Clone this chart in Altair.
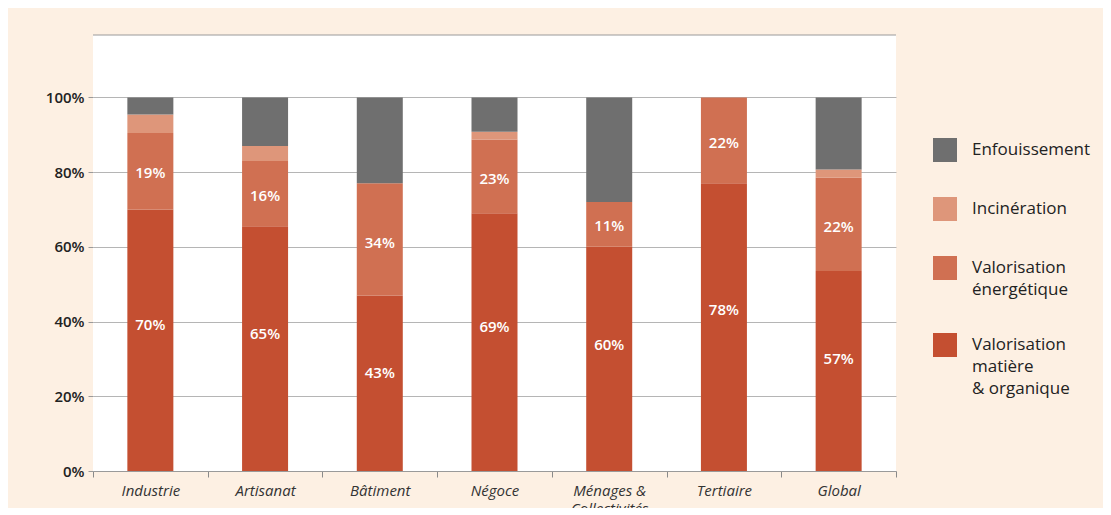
import altair as alt
import pandas as pd

categories = ["Industrie", "Artisanat", "Bâtiment", "Négoce",
              "Ménages & Collectivités", "Tertiaire", "Global"]
series = ["Enfouissement", "Incinération", "Valorisation énergétique",
          "Valorisation matière & organique"]
colors = ["#6f6f6f", "#de967a", "#d07052", "#c44f31"]

matiere = [70, 65.5, 47, 69, 60, 77, 53.5]
energetique = [20.5, 17.5, 30, 19.7, 12, 23, 25]
incineration = [4.9, 4, 0, 2.1, 0, 0, 2.2]
enfouissement = [4.6, 13, 23, 9.2, 28, 0, 19.3]

labels_matiere = ["70%", "65%", "43%", "69%", "60%", "78%", "57%"]
labels_energetique = ["19%", "16%", "34%", "23%", "11%", "22%", "22%"]

rows = []
for i, c in enumerate(categories):
    for rank, (s, vals, labs) in enumerate([
        (series[3], matiere, labels_matiere),
        (series[2], energetique, labels_energetique),
        (series[1], incineration, None),
        (series[0], enfouissement, None),
    ]):
        rows.append(dict(cat=c, serie=s, value=vals[i],
                         label=labs[i] if labs else "", rank=rank))
df = pd.DataFrame(rows)

FONT = "Open Sans"

x_axis = alt.Axis(title=None, tickBand="extent", tickSize=6, tickColor="#8a8a8a",
                  domainColor="#9a9a9a", labelAngle=0, labelFont=FONT,
                  labelFontStyle="italic", labelFontSize=15, labelColor="#333333",
                  labelPadding=6, labelLineHeight=18, grid=False,
                  labelExpr="datum.label == 'Ménages & Collectivités' ? ['Ménages &', 'Collectivités'] : datum.label")
y_axis = alt.Axis(title=None, values=[0, 20, 40, 60, 80, 100],
                  labelExpr="datum.value + '%'", grid=True, gridColor="#b5b5b5",
                  domain=False, tickSize=5, tickColor="#9a9a9a", labelFont=FONT,
                  labelFontSize=15, labelFontWeight=600, labelColor="#222222",
                  labelPadding=4)
x_scale = alt.Scale(paddingInner=0, paddingOuter=0)
y_scale = alt.Scale(domain=[0, 116.7], nice=False)

base = alt.Chart(df).transform_filter("datum.value > 0").transform_stack(
    stack="value", groupby=["cat"], as_=["v0", "v1"],
    sort=[alt.SortField("rank", order="ascending")])

legend = alt.Legend(
    title=None, orient="none", legendX=840, legendY=103, symbolType="square",
    symbolSize=576, symbolStrokeWidth=0, symbolOpacity=1, labelFont=FONT,
    labelFontSize=17, labelColor="#222222", labelOffset=15, rowPadding=35,
    padding=0, labelLimit=300,
    labelExpr="datum.label == 'Valorisation énergétique' ? ['Valorisation', 'énergétique'] : datum.label == 'Valorisation matière & organique' ? ['Valorisation', 'matière', '& organique'] : datum.label")

bars = base.mark_bar(size=46).encode(
    x=alt.X("cat:N", sort=categories, scale=x_scale, axis=x_axis),
    y=alt.Y("v0:Q", scale=y_scale, axis=y_axis),
    y2="v1:Q",
    color=alt.Color("serie:N", scale=alt.Scale(domain=series, range=colors), legend=legend),
)

texts = base.transform_filter("datum.label != ''").transform_calculate(
    ypos="datum.v0 + datum.value * (datum.rank == 0 ? 0.56 : 0.47)"
).mark_text(color="white", font=FONT, fontSize=15, fontWeight=600, baseline="middle").encode(
    x=alt.X("cat:N", sort=categories, scale=x_scale, axis=x_axis),
    y=alt.Y("ypos:Q", scale=y_scale, axis=y_axis),
    text="label:N",
)

top_line = alt.Chart(pd.DataFrame({"t": [0]})).mark_rule(color="#9a9a9a", strokeWidth=1).encode(
    y=alt.value(0))

chart = alt.layer(bars, texts, top_line).properties(
    width=803, height=436, background="#fdf0e3",
    padding={"left": 85, "top": 27, "right": 207, "bottom": 37},
    autosize=alt.AutoSizeParams(type="none"),
).configure(
    style={"guide-label": {"lineHeight": 22}}
).configure_view(fill="white", strokeWidth=0)

chart.save("out.html", embed_options={"renderer": "svg", "actions": False})
